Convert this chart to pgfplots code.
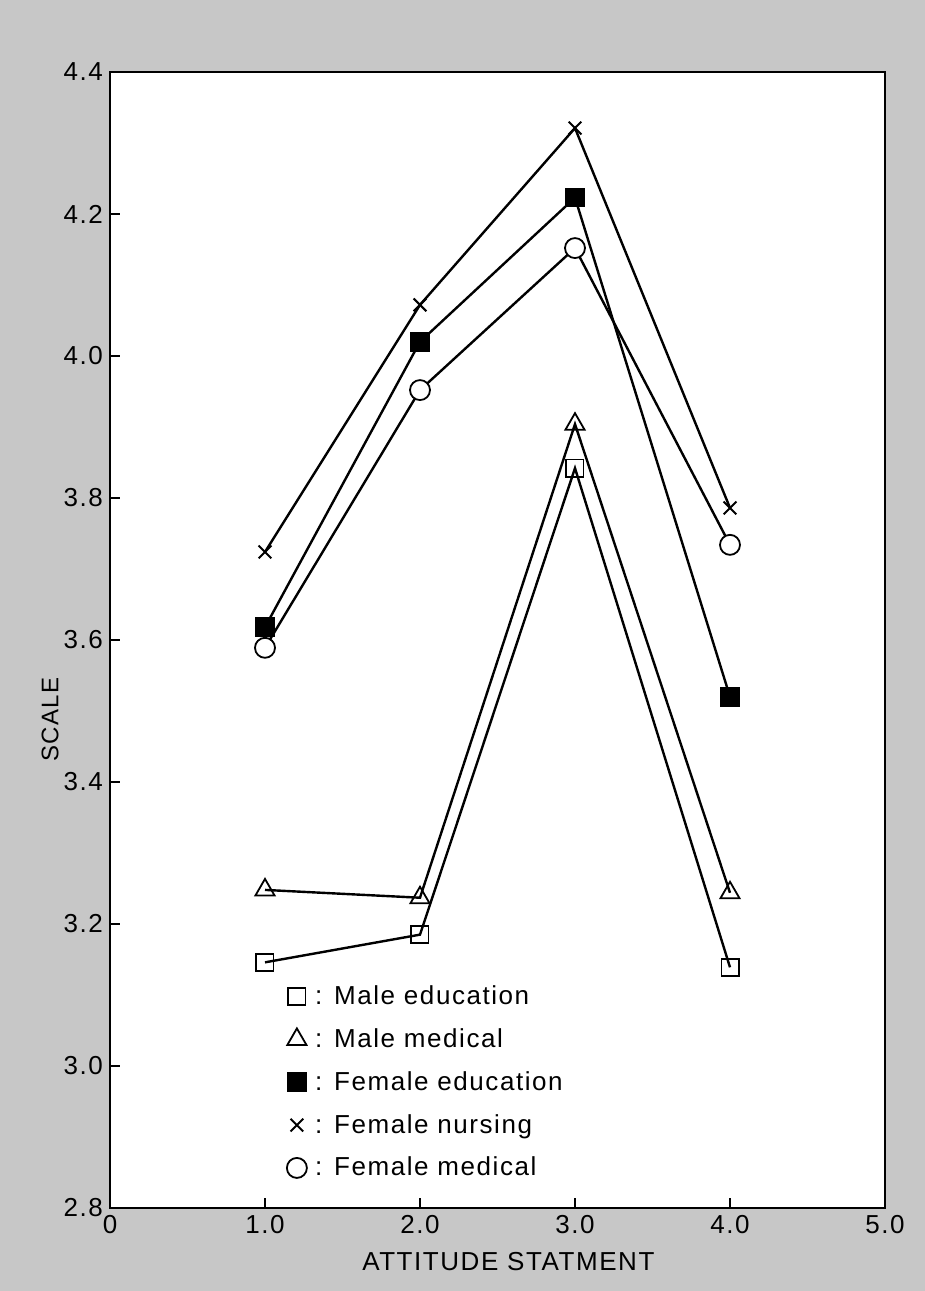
\documentclass[border=0pt]{standalone}
\usepackage{fontspec}
\setmainfont[LetterSpace=6]{Liberation Sans}
\usepackage{pgfplots}
\pgfplotsset{compat=1.18}
\begin{document}
\begin{tikzpicture}
% scanned page background
\fill[black!22] (-55pt,-41.5pt) rectangle (407.5pt,604pt);
\begin{axis}[
  at={(0pt,0pt)},anchor=south west,
  scale only axis,width=387.5pt,height=568pt,
  xmin=0,xmax=5,ymin=2.8,ymax=4.4,
  xtick={0,1,2,3,4,5},xticklabels={0,1.0,2.0,3.0,4.0,5.0},
  ytick={2.8,3.0,3.2,3.4,3.6,3.8,4.0,4.2,4.4},
  yticklabels={2.8,3.0,3.2,3.4,3.6,3.8,4.0,4.2,4.4},
  xtick pos=bottom,ytick pos=left,
  tick align=inside,major tick length=5pt,
  tick style={line width=0.8pt,black},
  axis line style={line width=1.1pt},
  axis background/.style={fill=white},
  ticklabel style={font=\fontsize{13}{15}\selectfont},
  /pgf/number format/assume math mode=true,
  xlabel={ATTITUDE STATMENT},ylabel={SCALE},
  xlabel style={font=\fontsize{13}{15}\selectfont,at={(axis description cs:0.514,-0.0475)},anchor=center},
  ylabel style={font=\fontsize{12}{14}\selectfont,at={(axis description cs:-0.0774,0.43)},anchor=center},
  legend style={at={(axis cs:1.1,3.125)},anchor=north west,draw=none,fill=none,
    font=\fontsize{13}{15}\selectfont,row sep=6.5pt},
  legend cell align=left,
  legend image code/.code={\draw[#1] plot[only marks] coordinates {(0.15cm,0cm)};},
  every axis plot/.append style={black,line width=1.2pt},
]
\addplot[mark=square,mark size=4.3pt,mark options={fill=white,line width=0.9pt}] coordinates {(1,3.146) (2,3.185) (3,3.842) (4,3.139)};
\addlegendentry{\,: Male education}
\addplot[mark=triangle,mark size=5.5pt,mark options={fill=white,line width=0.9pt}] coordinates {(1,3.248) (2,3.237) (3,3.904) (4,3.244)};
\addlegendentry{\,: Male medical}
\addplot[mark=square*,mark size=4.3pt] coordinates {(1,3.618) (2,4.020) (3,4.223) (4,3.520)};
\addlegendentry{\,: Female education}
\addplot[mark=x,mark size=4.5pt,mark options={line width=1pt}] coordinates {(1,3.724) (2,4.072) (3,4.321) (4,3.786)};
\addlegendentry{\,: Female nursing}
\addplot[mark=*,mark size=5pt,mark options={fill=white,line width=0.9pt}] coordinates {(1,3.589) (2,3.952) (3,4.152) (4,3.734)};
\addlegendentry{\,: Female medical}
\end{axis}
\end{tikzpicture}
\end{document}
